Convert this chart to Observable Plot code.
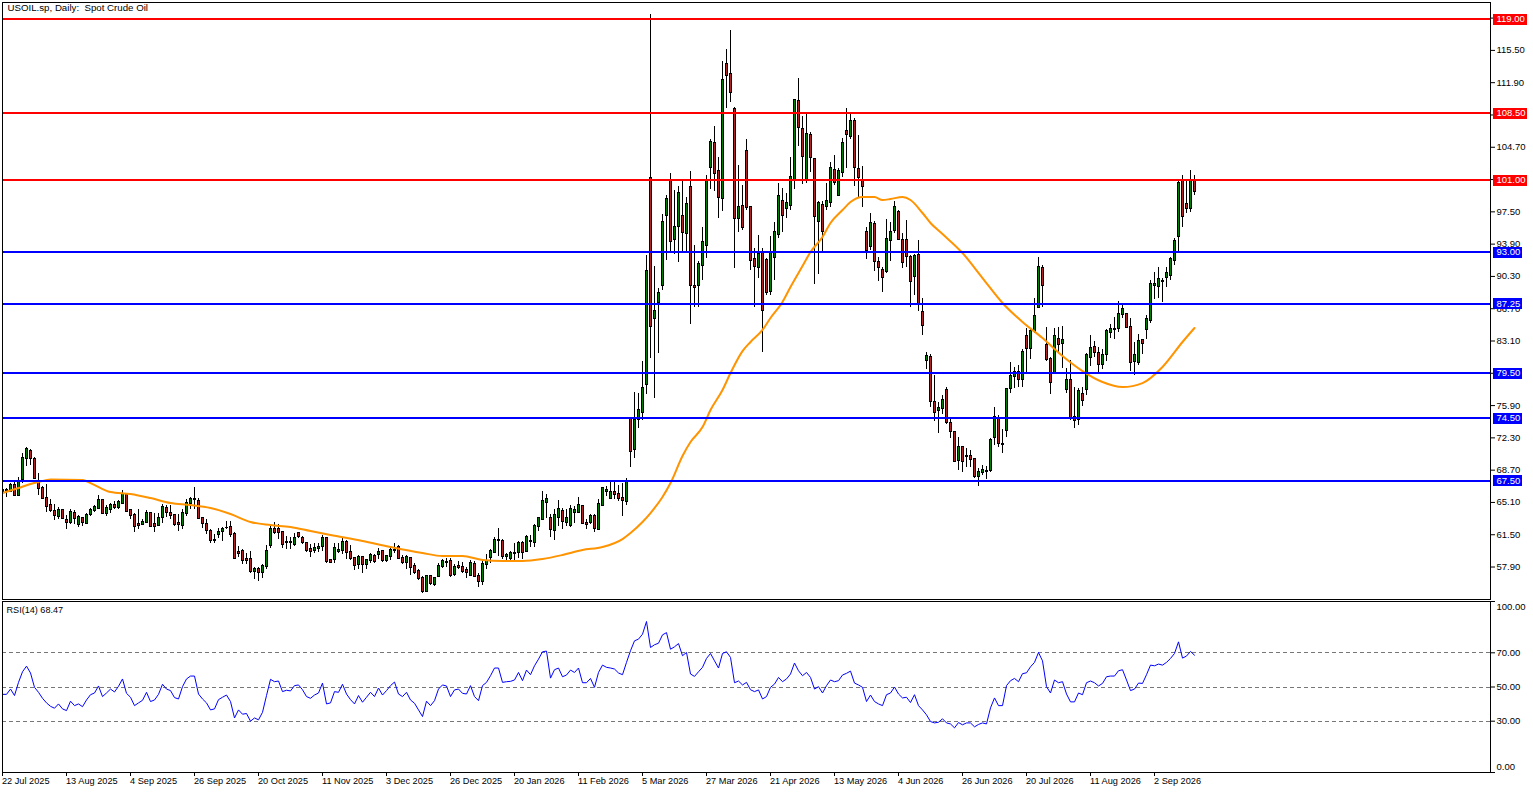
<!DOCTYPE html>
<html>
<head>
<meta charset="utf-8">
<script src="https://cdn.jsdelivr.net/npm/d3@7"></script>
<script src="https://cdn.jsdelivr.net/npm/@observablehq/plot@0.6"></script>
<style>
html,body{margin:0;padding:0;background:#fff;overflow:hidden}
svg{display:block}
text{white-space:pre}
</style>
</head>
<body>
<div id="chart"></div>
<script>
const title = "USOIL.sp, Daily:  Spot Crude Oil";
const rsiLabel = "RSI(14) 68.47";

const opens = [
66.13,66.38,66.31,67.05,65.83,67.61,69.92,70.84,69.92,67.43,
66.72,65.57,64.79,64.12,63.49,64.23,63.12,62.86,63.9,62.63,
63.34,62.71,63.67,64.16,64.38,65.34,63.86,64.3,64.79,64.45,
64.97,65.9,64.23,63.71,62.67,62.6,62.86,63.9,62.67,62.52,
63.34,64.49,63.9,63.67,62.78,62.52,63.82,64.94,65.42,65.23,
63.34,62.67,61.89,60.92,61.52,61.85,62.22,62.33,61.55,59.55,
59.66,58.77,58.77,57.39,57.65,57.28,57.95,60.29,62.11,62.11,
61.78,60.66,60.55,60.37,61.67,61.11,60.55,59.88,59.73,59.96,
60.1,61.11,58.69,58.69,59.55,59.73,60.7,59.58,58.88,58.14,
59.03,58.14,58.58,59.14,59.29,59.7,58.62,59.06,59.66,60.18,
58.88,58.4,58.92,58.02,57.47,56.65,55.16,56.91,55.91,56.83,
57.95,58.51,58.58,57.02,58.02,57.88,57.54,56.91,58.25,56.91,
56.28,58.17,58.92,59.51,60.85,60.81,59.06,58.84,59.32,59.47,
60.55,59.58,60.66,60.59,62.41,63.19,65.08,63.34,61.96,63.34,
64.16,62.86,62.48,63.97,63.97,64.71,62.78,62.86,63.6,62.07,
64.75,66.31,65.53,66.27,66.01,65.57,65.2,74.4,70.95,74.29,
75.07,78.19,101.27,85.55,87.34,89.23,97.04,101.05,94.36,95.81,
97.04,95.03,100.27,89.23,89.23,91.46,93.69,102.39,105.18,102.05,
98.93,113.98,112.87,108.97,96.7,98.15,104.28,98.04,92.24,91.24,
92.91,92.13,88.56,92.35,94.92,98.71,97.82,98.15,101.05,109.86,
106.74,101.05,106.07,103.39,96.37,98.26,98.04,98.49,102.17,99.27,
101.83,106.51,105.84,107.63,102.28,101.05,95.25,93.58,96.14,91.91,
91.01,90.79,94.25,95.36,97.48,94.36,94.36,92.46,90.24,92.69,
86.33,80.87,81.31,76.3,75.29,75.52,77.63,73.96,72.95,69.72,
71.28,70.16,70.28,69.94,67.94,68.38,68.49,68.6,72.28,74.4,
71.61,73.06,77.75,79.08,79.64,78.75,83.66,82.21,84.1,86.78,
91.24,82.65,81.09,79.53,83.32,82.76,77.63,78.75,74.62,74.29,
77.19,77.63,81.2,82.43,81.76,80.42,81.54,83.99,84.33,84.44,
86.0,86.11,84.66,80.76,80.65,83.21,84.33,85.33,89.23,89.12,
89.68,90.12,90.35,92.02,94.7,100.94,98.37,97.82,101.05];

const closes = [
66.5,66.5,67.05,65.87,67.54,70.03,71.07,69.99,67.72,66.65,
65.49,64.64,64.19,63.64,64.23,63.23,62.86,64.01,63.23,63.45,
62.86,63.67,64.23,64.56,65.38,63.82,64.45,64.79,64.53,65.12,
66.01,64.08,63.64,62.33,62.48,62.97,63.9,62.41,62.41,63.34,
64.6,63.97,63.64,62.6,62.63,63.97,65.08,65.49,65.49,63.3,
62.67,61.96,60.85,60.85,61.81,62.15,62.3,61.48,58.84,59.36,
58.62,58.62,57.39,57.65,57.28,57.99,59.66,62.11,61.74,61.74,
60.4,60.55,60.66,61.11,61.22,60.55,59.73,59.58,59.99,60.1,
61.11,58.43,58.4,59.99,59.81,60.74,59.51,58.8,58.06,59.06,
58.14,58.69,59.21,58.47,59.58,58.62,59.14,59.81,59.81,58.84,
58.4,59.03,57.84,57.28,56.61,55.16,56.91,55.98,56.65,58.02,
58.58,58.36,56.95,57.88,57.8,57.39,57.28,58.4,56.83,56.28,
58.25,58.62,59.7,60.92,60.92,59.06,59.21,59.47,59.44,60.55,
59.44,61.22,60.81,62.45,63.34,65.23,65.46,62.07,63.67,64.34,
62.93,63.34,64.34,64.27,64.79,62.74,62.63,63.6,62.15,64.94,
66.68,66.46,66.27,65.98,65.53,65.31,67.35,70.72,74.29,75.4,
77.86,90.9,84.66,86.44,88.45,96.37,98.93,94.14,95.81,99.6,
95.14,98.37,89.23,89.0,91.68,94.14,101.05,105.29,101.72,99.04,
112.2,112.65,110.75,96.7,98.04,95.7,97.93,92.02,91.35,92.8,
86.44,88.45,92.91,95.25,99.27,97.04,98.49,101.38,109.97,106.85,
103.61,106.18,103.5,96.92,98.49,95.25,98.71,102.39,100.72,102.05,
105.18,106.07,107.63,102.39,101.27,100.27,93.13,96.26,91.91,91.24,
90.12,94.47,95.25,98.04,94.36,91.8,92.46,89.68,92.58,87.22,
84.77,81.43,76.3,75.07,75.63,76.52,73.96,72.95,69.61,71.28,
69.61,70.28,69.83,67.94,68.49,68.71,68.6,72.06,74.62,71.61,
71.5,77.75,79.2,79.64,78.75,81.87,82.21,84.21,85.89,91.35,
89.23,80.98,78.41,83.66,82.65,83.21,78.75,74.4,74.18,77.52,
76.41,81.54,82.32,81.76,80.42,81.54,84.21,84.44,84.44,86.11,
86.67,84.55,80.65,81.54,83.1,82.76,85.55,89.45,89.45,90.01,
89.79,90.68,92.24,94.25,100.71,96.92,97.82,100.94,99.71];

const highs = [
66.79,66.68,67.24,67.43,67.91,70.51,71.18,71.03,70.14,68.28,
66.87,67.13,65.46,64.86,64.56,64.34,63.6,64.27,64.16,63.6,
63.45,63.82,64.45,64.75,65.83,65.38,64.71,64.94,65.2,65.31,
66.42,66.13,64.27,63.82,64.27,63.23,64.19,64.01,63.9,63.9,
64.82,64.71,64.71,63.75,63.71,64.27,65.38,65.6,66.72,65.57,
63.45,63.15,62.11,61.48,62.15,62.26,63.0,62.97,61.74,60.18,
59.88,59.36,59.62,57.88,57.88,58.14,60.25,62.6,62.89,62.6,
61.85,61.29,61.22,61.59,61.74,61.29,60.63,60.37,60.55,60.55,
61.37,61.22,58.69,60.55,60.55,61.11,60.85,60.25,58.95,59.14,
59.06,58.77,59.36,59.25,59.99,59.73,59.21,60.18,60.55,60.25,
59.14,59.14,58.99,58.25,57.58,56.83,56.98,56.98,56.76,58.25,
58.77,58.88,58.88,58.14,58.51,58.4,57.88,58.62,58.51,57.13,
58.51,59.25,59.81,61.22,62.22,60.92,59.44,59.62,60.48,60.77,
60.74,61.37,61.37,62.6,63.45,66.27,65.94,63.71,64.34,65.27,
64.45,64.34,64.71,64.64,65.68,64.79,63.23,63.71,63.71,65.46,
66.79,66.87,67.31,67.31,66.94,67.24,67.8,74.51,77.41,77.3,
80.76,92.58,119.45,91.46,88.9,97.15,99.27,101.72,99.93,100.27,
101.05,99.15,102.05,93.8,91.91,95.81,101.5,105.62,107.07,103.61,
114.21,115.55,117.77,109.08,102.72,100.49,105.62,98.15,93.36,94.81,
93.36,92.35,94.7,96.26,100.7,100.05,99.49,103.61,110.08,112.42,
108.08,108.41,106.4,103.5,98.6,98.6,100.7,102.95,103.73,102.28,
105.73,108.97,108.41,107.96,105.96,102.61,95.7,97.37,96.37,92.46,
91.35,96.7,96.26,98.6,97.7,95.14,96.59,92.58,92.69,94.36,
87.89,81.87,81.65,79.3,76.19,76.97,77.97,74.62,73.06,72.39,
71.39,71.06,70.94,70.05,68.83,69.27,69.16,72.28,75.74,74.85,
73.18,77.86,80.65,80.2,80.42,82.1,84.44,84.44,87.89,92.46,
91.57,84.55,81.31,84.44,84.55,84.77,79.98,80.98,77.97,77.86,
77.97,81.76,83.66,82.99,82.32,82.1,84.33,84.99,85.77,87.56,
87.22,86.22,85.66,82.88,83.77,83.32,85.99,89.79,90.79,91.24,
90.12,91.24,92.46,94.58,100.94,101.5,100.94,102.16,101.5];

const lows = [
65.94,65.64,66.2,65.87,65.75,67.17,69.1,69.17,67.61,65.83,
65.38,64.01,63.97,63.08,63.23,63.15,62.07,62.6,62.67,62.33,
62.41,62.6,63.52,63.97,64.27,63.71,63.52,63.82,64.34,64.27,
64.82,64.08,63.15,61.74,62.04,62.48,62.78,62.33,61.78,62.41,
62.78,63.45,63.23,62.41,61.85,62.04,63.52,64.27,64.27,63.15,
62.19,61.48,60.48,60.55,61.11,60.74,62.04,61.22,58.69,58.99,
58.17,58.14,57.21,56.54,56.28,56.65,57.58,60.0,61.48,60.92,
60.0,59.88,59.88,60.18,61.11,60.37,59.51,58.99,59.36,59.51,
59.62,58.25,58.25,58.25,59.36,59.25,58.69,58.62,57.5,57.58,
57.13,57.65,58.25,58.25,58.69,58.4,58.4,58.62,59.44,58.69,
58.14,57.65,56.91,57.02,56.39,54.98,55.05,55.79,55.72,56.76,
57.76,57.88,56.76,56.83,57.58,57.13,56.61,56.83,56.76,55.61,
55.83,57.58,58.25,59.36,59.06,58.77,58.51,58.62,58.62,58.88,
58.77,59.51,60.1,60.1,61.85,63.15,63.34,61.18,60.85,62.41,
62.04,62.41,62.3,62.71,63.9,62.6,62.04,62.6,61.74,62.04,
64.71,65.75,65.38,65.38,65.2,63.52,64.71,69.05,70.05,73.29,
74.29,77.08,81.2,76.74,81.76,88.78,92.02,93.02,92.69,91.8,
92.91,92.91,84.99,86.78,86.89,89.79,92.35,99.94,99.82,96.81,
97.59,108.97,109.64,91.13,95.25,95.47,97.7,91.01,86.89,90.12,
81.87,88.12,88.12,89.9,94.58,95.25,96.81,97.7,99.94,104.73,
100.6,100.7,101.94,89.45,90.57,93.02,97.7,98.04,100.49,99.27,
101.38,102.28,105.62,100.38,99.04,98.04,92.24,93.24,90.9,89.68,
88.56,90.68,91.91,95.14,94.25,91.13,91.35,86.89,88.12,86.44,
83.66,79.87,75.74,74.18,72.84,74.96,73.84,72.28,69.5,68.71,
68.49,69.05,69.05,67.82,66.93,68.16,67.71,68.49,71.5,71.28,
70.61,72.39,77.3,77.75,77.97,77.97,79.64,81.09,83.99,86.67,
86.89,80.87,77.08,79.42,81.87,79.98,77.3,74.29,73.4,73.73,
75.85,76.97,80.31,81.31,79.31,79.87,80.76,83.43,83.32,84.1,
85.66,84.44,79.75,79.2,80.42,81.65,83.32,85.1,87.78,87.89,
87.34,89.12,89.9,91.57,92.91,95.7,97.37,97.48,99.27];

const maBars = [0,4,7,9,12,20,22,27,32,37,42,47,52,57,62,67,72,77,82,90,97,105,110,115,120,125,130,135,140,145,150,155,157,160,162,165,167,170,172,175,177,180,182,185,187,190,192,195,197,200,202,205,207,210,212,215,218,220,222,225,227,230,232,235,240,245,250,255,260,265,270,275,280,285,290,295,298];
const maValues = [66.15,66.71,67.15,67.38,67.66,67.6,67.26,66.26,66.04,65.59,65.04,64.81,64.48,63.81,62.92,62.58,62.36,61.91,61.47,60.8,60.13,59.46,59.13,59.13,58.68,58.57,58.57,58.79,59.24,59.8,60.13,61.02,61.69,62.92,63.92,65.7,67.26,70.28,71.84,73.5,75.4,77.63,79.53,81.98,82.99,84.33,85.66,87.45,89.12,91.46,93.02,94.7,96.26,97.7,98.6,99.15,99.15,98.82,98.93,99.15,98.82,97.37,96.26,95.03,92.91,90.12,87.34,85.22,83.43,81.43,79.75,78.53,77.97,78.41,80.2,82.99,84.55];

const rsiValues = [
45.7,45.7,48.8,45.0,52.7,58.9,62.2,58.2,49.8,46.9,
43.4,40.7,38.7,37.6,40.1,37.2,36.2,41.7,39.1,40.1,
38.5,42.4,45.5,46.5,50.6,44.4,46.5,48.8,47.1,50.4,
54.7,46.3,44.0,39.1,40.7,42.2,46.9,41.5,42.4,45.7,
51.6,48.8,47.9,43.8,43.0,50.2,54.7,56.4,56.4,45.9,
43.0,40.7,36.6,37.2,42.6,44.0,45.3,41.5,31.9,36.6,
34.1,34.5,30.0,31.9,30.8,35.2,45.0,54.5,53.1,53.5,
47.3,48.1,47.7,50.8,51.2,48.4,44.4,43.4,45.3,46.5,
52.3,40.1,40.7,47.3,46.9,51.6,45.9,42.6,40.1,45.0,
41.1,44.0,46.9,44.4,49.4,45.3,47.9,50.8,52.9,45.9,
44.4,46.9,42.4,40.5,36.6,32.7,41.7,39.1,42.0,48.8,
51.2,50.6,44.4,48.3,48.8,46.3,45.9,50.8,44.4,42.0,
50.8,52.7,56.6,61.1,61.1,52.7,53.1,53.3,54.1,58.5,
53.7,59.9,57.2,62.4,66.3,70.6,71.0,55.2,60.1,61.1,
56.0,57.0,59.9,58.5,61.1,52.5,52.5,55.0,49.8,58.5,
62.8,61.5,61.1,60.5,58.2,57.2,64.4,71.2,77.0,78.0,
80.9,88.3,73.1,74.7,75.6,80.5,81.8,72.1,73.5,75.4,
68.3,70.2,57.6,56.2,58.9,61.5,66.7,69.6,65.3,61.1,
69.6,70.6,67.3,52.5,53.5,51.2,52.7,48.4,47.3,48.3,
43.0,44.4,49.8,51.7,55.6,53.1,54.7,57.6,64.0,59.5,
56.6,58.5,55.6,48.8,50.2,46.5,50.8,54.1,53.1,53.7,
57.0,58.0,59.3,52.3,51.2,49.8,41.5,45.3,41.5,40.1,
39.1,45.5,46.5,50.0,45.9,43.6,44.0,40.9,45.5,39.1,
36.6,33.7,29.8,29.0,29.4,31.4,29.0,28.4,26.1,29.2,
27.9,29.0,29.0,26.7,28.1,29.0,28.4,37.8,43.6,39.1,
39.1,50.8,53.7,55.0,53.1,57.8,58.3,61.8,64.4,70.2,
65.3,50.2,46.5,54.1,52.5,53.1,45.9,41.3,41.3,46.5,
45.5,52.5,53.5,52.5,50.6,52.1,56.0,56.4,56.4,59.5,
60.1,54.1,47.9,48.8,52.3,52.1,57.2,62.8,62.4,63.4,
62.8,64.4,66.7,69.6,76.4,66.9,68.1,70.8,68.6];

const redLevels = [119, 108.5, 101];
const blueLevels = [93, 87.25, 79.5, 74.5, 67.5];
const priceTicks = [119.1,115.5,111.9,108.3,104.7,101.1,97.5,93.9,90.3,86.7,83.1,79.5,75.9,72.3,68.7,65.1,61.5,57.9];
const rsiTicks = [100, 70, 50, 30, 0];
const rsiGuides = [70, 50, 30];
const dateLabels = ["22 Jul 2025","13 Aug 2025","4 Sep 2025","26 Sep 2025","20 Oct 2025","11 Nov 2025","3 Dec 2025","26 Dec 2025","20 Jan 2026","11 Feb 2026","5 Mar 2026","27 Mar 2026","21 Apr 2026","13 May 2026","4 Jun 2026","26 Jun 2026","20 Jul 2026","11 Aug 2026","2 Sep 2026"];
const dateBars = dateLabels.map((_, k) => k * 16);

const candles = opens.map((o, i) => ({i, o, c: closes[i], h: highs[i], l: lows[i], up: closes[i] >= o}));
const maLine = maBars.map((i, k) => ({i, v: maValues[k]}));
const rsiLine = rsiValues.map((v, i) => ({i, v}));

const W = 1533, barDomain = [0, 372];
const font = {fontFamily: "'Liberation Sans',Arial,sans-serif", fontSize: "9.5px", background: "#fff", color: "#000"};
const UP = "#008000", DOWN = "#b22222", RED = "#ff0000", BLUE = "#0000ff", MA = "#ff9300";
const fmt = d3.format(".2f");

function levelMarks(levels, color) {
  return [
    Plot.ruleY(levels, {stroke: color, strokeWidth: 2, clip: true, shapeRendering: "crispEdges"}),
    Plot.ruleY(levels, {y: d => d, x1: 372.75, x2: d => fmt(d).length > 5 ? 381.25 : 380, stroke: color, strokeWidth: 11, shapeRendering: "crispEdges"}),
    Plot.text(levels, {y: d => d, frameAnchor: "right", dx: 6, textAnchor: "start", text: d => fmt(d), fill: "#fff"})
  ];
}

const main = Plot.plot({
  width: W, height: 600,
  marginLeft: 2, marginRight: 43, marginTop: 2, marginBottom: 1,
  style: font,
  x: {domain: barDomain, axis: null},
  y: {domain: [54.28, 120.84], axis: null},
  marks: [
    Plot.ruleX(candles, {x: "i", y1: "l", y2: "h", stroke: "#000", strokeWidth: 1, clip: true, shapeRendering: "crispEdges"}),
    Plot.rect(candles, {x1: d => d.i - 0.25, x2: d => d.i + 0.25, y1: "o", y2: "c", fill: d => d.up ? UP : DOWN, stroke: "#000", strokeWidth: 1, clip: true, shapeRendering: "crispEdges"}),
    Plot.line(maLine, {x: "i", y: "v", stroke: MA, strokeWidth: 2, clip: true, curve: "monotone-x"}),
    Plot.axisY(priceTicks, {anchor: "right", tickSize: 4, tickPadding: 2, tickFormat: ".2f", label: null, stroke: "#000"}),
    ...levelMarks(redLevels, RED),
    ...levelMarks(blueLevels, BLUE),
    Plot.frame({stroke: "#000", strokeWidth: 1, shapeRendering: "crispEdges"}),
    Plot.text([title], {frameAnchor: "top-left", dx: 5, dy: 2, lineAnchor: "top", fontSize: 9.7, text: d => d, fill: "#000"})
  ]
});

const rsiLabelMark = (values, dy) => Plot.text(values, {y: d => d, frameAnchor: "right", dx: 6, dy, textAnchor: "start", text: d => fmt(d), fill: "#000"});

const rsi = Plot.plot({
  width: W, height: 193,
  marginLeft: 2, marginRight: 43, marginTop: 1, marginBottom: 21,
  style: font,
  x: {domain: barDomain, axis: null},
  y: {domain: [0, 100], axis: null},
  marks: [
    Plot.ruleY(rsiGuides, {stroke: "#777", strokeWidth: 1, strokeDasharray: "4,3", clip: true, shapeRendering: "crispEdges"}),
    Plot.line(rsiLine, {x: "i", y: "v", stroke: BLUE, strokeWidth: 1, clip: true}),
    Plot.axisY(rsiTicks, {anchor: "right", tickSize: 4, tickFormat: () => "", label: null, stroke: "#000"}),
    rsiLabelMark(rsiGuides, 0),
    rsiLabelMark([100], 5),
    rsiLabelMark([0], -6),
    Plot.axisX(dateBars, {anchor: "bottom", tickSize: 4, tickFormat: () => "", label: null, stroke: "#000"}),
    Plot.text(dateBars, {x: d => d, frameAnchor: "bottom", dy: 8.5, dx: -0.5, lineAnchor: "middle", textAnchor: "start", fontSize: 9.2, text: (d, k) => dateLabels[k], fill: "#000"}),
    Plot.frame({stroke: "#000", strokeWidth: 1, shapeRendering: "crispEdges"}),
    Plot.text([rsiLabel], {frameAnchor: "top-left", dx: 4, dy: 5, lineAnchor: "top", fontSize: 9.1, text: d => d, fill: "#000"})
  ]
});

document.getElementById("chart").append(main, rsi);
</script>
</body>
</html>
